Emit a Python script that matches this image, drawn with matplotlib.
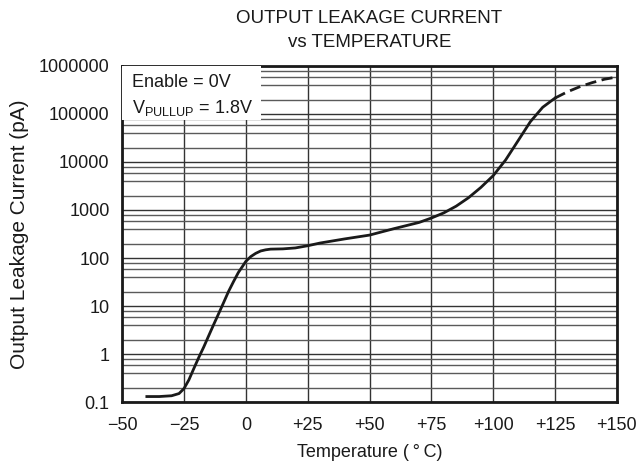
import numpy as np
import matplotlib
matplotlib.use("Agg")
import matplotlib.pyplot as plt
from matplotlib.ticker import FixedLocator, NullFormatter

plt.rcParams['font.family'] = ['Liberation Sans', 'DejaVu Sans']

# measured curve, Enable = 0V, Vpullup = 1.8V
temp = [-40, -35, -30, -27, -25, -23, -21, -19, -17, -15, -13, -11, -9, -7, -5, -3,
        -1, 0, 2, 4, 6, 8, 10, 15, 20, 25, 30, 40, 50, 60, 70, 75, 80, 85, 90, 95,
        100, 105, 110, 115, 120, 125]
leak = [0.13, 0.13, 0.135, 0.15, 0.19, 0.29, 0.5, 0.85, 1.4, 2.4, 4.1, 6.9, 11.7, 20,
        32, 50, 71, 85, 107, 125, 140, 148, 153, 155, 162, 180, 205, 250, 300, 410,
        550, 680, 870, 1200, 1800, 2950, 5200, 11000, 27500, 69000, 138000, 215000]

# extrapolated part (dashed)
temp_ext = [125, 130, 135, 140, 145, 150]
leak_ext = [215000, 290000, 370000, 450000, 530000, 590000]

xticks = [-50, -25, 0, 25, 50, 75, 100, 125, 150]
xlabels = ['\u221250', '\u221225', '0', '+25', '+50', '+75', '+100', '+125', '+150']
yticks = [0.1, 1, 10, 100, 1000, 10000, 100000, 1000000]
ylabels = ['0.1', '1', '10', '100', '1000', '10000', '100000', '1000000']

fs = 13
ink = '#1a1a1a'

fig = plt.figure(figsize=(6.36, 4.68), dpi=100)
ax = fig.add_axes([0.192, 0.141, 0.778, 0.718])

ax.semilogy(temp, leak, color=ink, lw=2, zorder=3)
ax.semilogy(temp_ext, leak_ext, color=ink, lw=2, ls=(0, (4, 2)), zorder=3)

ax.set_xlim(-50, 150)
ax.set_ylim(0.1, 1000000)
ax.set_xticks(xticks)
ax.set_xticklabels(xlabels)
ax.yaxis.set_major_locator(FixedLocator(yticks))
ax.set_yticklabels(ylabels)
minor = [m * d for d in yticks[:-1] for m in (2, 4, 6, 8)]
ax.yaxis.set_minor_locator(FixedLocator(minor))
ax.yaxis.set_minor_formatter(NullFormatter())

ax.grid(True, which='major', axis='both', color='#333333', lw=1.0)
ax.grid(True, which='minor', axis='y', color='#5a5a5a', lw=1.0)
ax.tick_params(which='both', length=0, labelsize=fs, colors=ink)
ax.tick_params(axis='y', pad=9)
ax.tick_params(axis='x', pad=11)
for s in ax.spines.values():
    s.set_linewidth(2)
    s.set_color(ink)

ax.set_xlabel('Temperature (\u2009\u00b0\u2009C)', fontsize=fs, color=ink, labelpad=7)
ax.set_ylabel('Output Leakage Current (pA)', fontsize=15, color=ink, labelpad=7)
fig.text(0.581, 0.96, 'OUTPUT LEAKAGE CURRENT', fontsize=13.5, color=ink,
         ha='center', va='center')
fig.text(0.581, 0.909, 'vs TEMPERATURE', fontsize=13.5, color=ink,
         ha='center', va='center')

# white legend box in upper-left corner
ax.add_patch(plt.Rectangle((0, 0.84), 0.28, 0.16, transform=ax.transAxes,
                           facecolor='white', edgecolor='none', zorder=4))
ax.text(0.02, 0.95, 'Enable = 0V', transform=ax.transAxes, fontsize=fs,
        va='center', ha='left', zorder=5, color=ink)
ax.text(0.02, 0.875, '$\\mathregular{V_{PULLUP}}$ = 1.8V', transform=ax.transAxes,
        fontsize=fs, va='center', ha='left', zorder=5, color=ink)

fig.savefig('out.png', dpi=100)
